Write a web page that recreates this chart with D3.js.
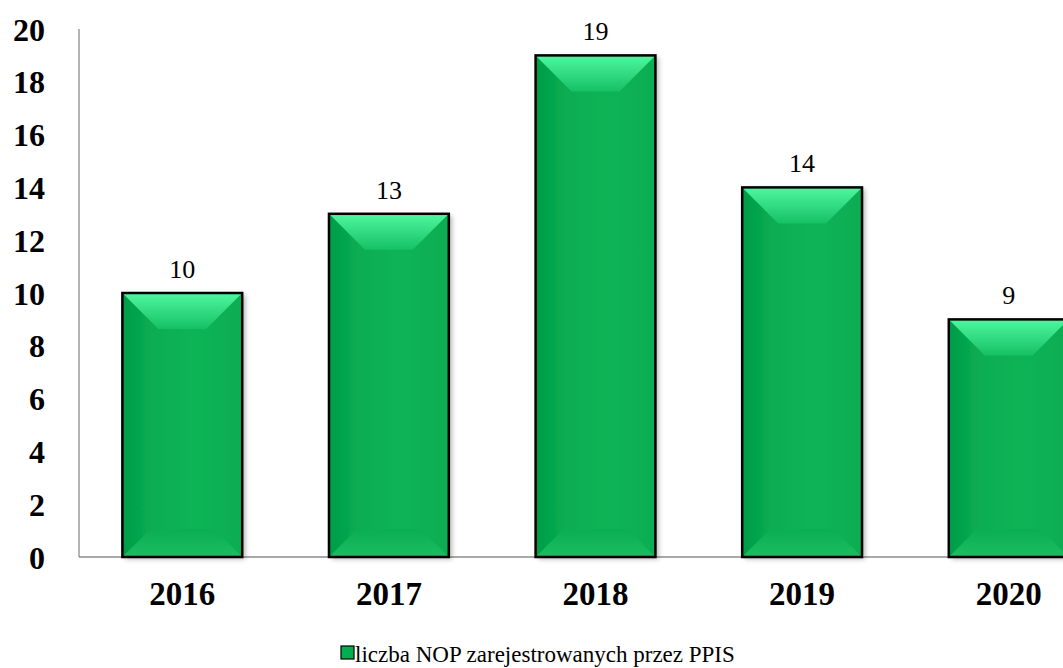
<!DOCTYPE html>
<html><head><meta charset="utf-8">
<script src="https://cdn.jsdelivr.net/npm/d3@7"></script>
<style>body{margin:0;background:#fff;overflow:hidden}svg{display:block}</style>
</head><body>
<script>
const years = ["2016","2017","2018","2019","2020"];
const values = [10, 13, 19, 14, 9];
const yTicks = [0,2,4,6,8,10,12,14,16,18,20];
const legendLabel = "liczba NOP zarejestrowanych przez PPIS";

const W = 1063, H = 668;
const SERIF = "'Liberation Serif', 'Times New Roman', serif";
const svg = d3.select("body").append("svg").attr("width", W).attr("height", H);
const defs = svg.append("defs");
const f = defs.append("filter").attr("id","sh").attr("x","-10%").attr("y","-10%").attr("width","130%").attr("height","130%");
f.append("feDropShadow").attr("dx",3).attr("dy",2).attr("stdDeviation",2.5).attr("flood-color","#000").attr("flood-opacity",0.3);
const gTop = defs.append("linearGradient").attr("id","gt").attr("x1",0).attr("y1",0).attr("x2",0).attr("y2",1);
gTop.append("stop").attr("offset","0%").attr("stop-color","#4ff8a0");
gTop.append("stop").attr("offset","100%").attr("stop-color","#16c064");
const gFace = defs.append("linearGradient").attr("id","gf").attr("x1",0).attr("y1",0).attr("x2",1).attr("y2",0);
gFace.append("stop").attr("offset","0%").attr("stop-color","#039c47");
gFace.append("stop").attr("offset","25%").attr("stop-color","#08ad52");
gFace.append("stop").attr("offset","60%").attr("stop-color","#0bb457");
gFace.append("stop").attr("offset","100%").attr("stop-color","#07ad52");
const gBot = defs.append("linearGradient").attr("id","gb").attr("x1",0).attr("y1",0).attr("x2",0).attr("y2",1);
gBot.append("stop").attr("offset","0%").attr("stop-color","#0aae53");
gBot.append("stop").attr("offset","100%").attr("stop-color","#1bbd60");

const x = d3.scaleBand().domain(years).range([79, 1112]).paddingInner(0.42).paddingOuter(0.21);
const y = d3.scaleLinear().domain([0, 20]).range([557, 29]);

// axes lines
svg.append("line").attr("x1",79).attr("x2",79).attr("y1",y(20)).attr("y2",y(0)).attr("stroke","#8c8c8c").attr("stroke-width",1.3);
svg.append("line").attr("x1",79).attr("x2",W).attr("y1",y(0)).attr("y2",y(0)).attr("stroke","#8c8c8c").attr("stroke-width",1.3);

// y tick labels
svg.append("g").selectAll("text").data(yTicks).join("text")
  .attr("x", 45).attr("y", d => y(d)).attr("dy","0.36em")
  .attr("text-anchor","end")
  .attr("font-family",SERIF).attr("font-weight","bold").attr("font-size",32)
  .attr("fill","#000").text(d => d);

// bars
const data = years.map((yr,i)=>({yr, v: values[i]}));
const bars = svg.append("g").selectAll("g").data(data).join("g")
  .attr("transform", d => `translate(${x(d.yr)},${y(d.v)})`);
bars.each(function(d){
  const g = d3.select(this);
  const w = x.bandwidth(), h = y(0) - y(d.v);
  const b = Math.min(36, h/2), bb = Math.min(28, h/3);
  g.append("rect").attr("width",w).attr("height",h).attr("fill","url(#gf)").attr("filter","url(#sh)");
  g.append("polygon").attr("points",`0,${h} ${bb},${h-bb} ${w-bb},${h-bb} ${w},${h}`).attr("fill","url(#gb)");
  g.append("polygon").attr("points",`0,0 ${w},0 ${w-b},${b} ${b},${b}`).attr("fill","url(#gt)");
  g.append("rect").attr("width",w).attr("height",h).attr("fill","none").attr("stroke","#000").attr("stroke-width",2.5);
});

// value labels
svg.append("g").selectAll("text").data(data).join("text")
  .attr("x", d => x(d.yr) + x.bandwidth()/2).attr("y", d => y(d.v) - 15)
  .attr("text-anchor","middle")
  .attr("font-family",SERIF).attr("font-size",26).attr("fill","#000")
  .text(d => d.v);

// x labels
svg.append("g").selectAll("text").data(years).join("text")
  .attr("x", d => x(d) + x.bandwidth()/2).attr("y", 605)
  .attr("text-anchor","middle")
  .attr("font-family",SERIF).attr("font-weight","bold").attr("font-size",33).attr("fill","#000")
  .text(d => d);

// legend
const lg = svg.append("g");
lg.append("rect").attr("x",341).attr("y",646).attr("width",13).attr("height",13).attr("fill","#00b050").attr("stroke","#000").attr("stroke-width",1.2);
lg.append("text").attr("x",355).attr("y",662)
  .attr("font-family",SERIF).attr("font-size",23).attr("fill","#000").text(legendLabel);
</script>
</body></html>
